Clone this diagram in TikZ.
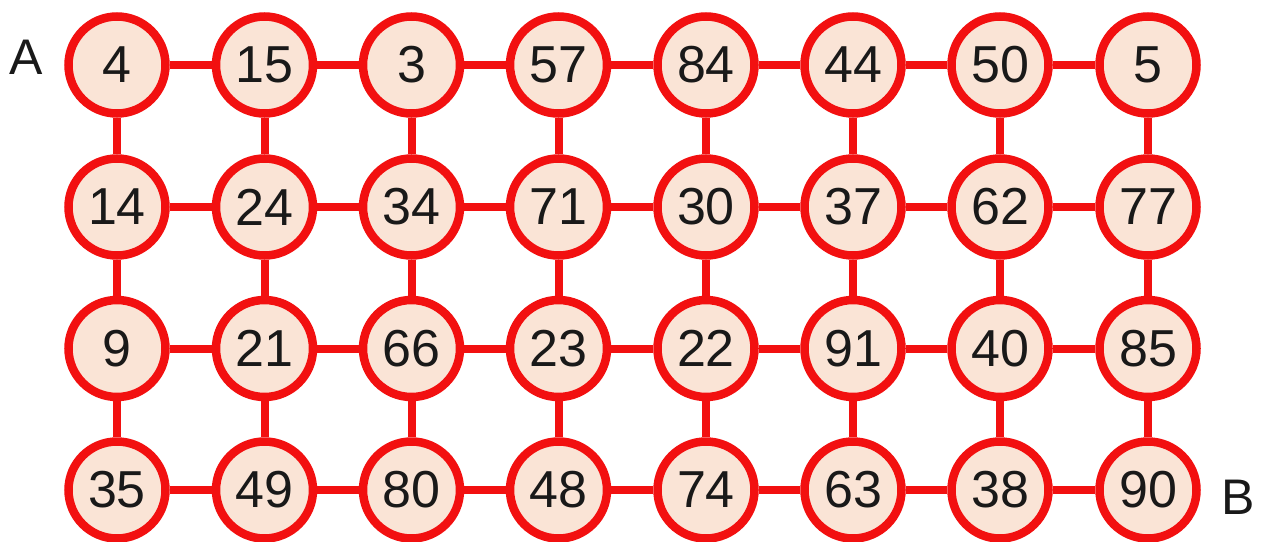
\documentclass[tikz,border=0pt]{standalone}
\usepackage{fontspec}
\setmainfont{Liberation Sans}
\definecolor{ringred}{RGB}{242,16,16}
\definecolor{peach}{RGB}{250,228,214}
\begin{document}
\begin{tikzpicture}[x=1pt,y=1pt,
  numnode/.style={circle,draw=ringred,fill=peach,line width=8.5pt,minimum size=97pt,inner sep=0pt,font=\fontsize{52}{52}\selectfont,text=black!90},
  link/.style={draw=ringred,line width=8pt},
  letter/.style={font=\fontsize{50}{50}\selectfont,text=black!90}]
\useasboundingbox (0,0) rectangle (1261,-541);
\def\colx{{117,264.5,411.5,558.5,706,853,1000,1148}}
\def\rowy{{-65,-207,-348.5,-490}}
\foreach \r/\vals in {0/{4,15,3,57,84,44,50,5},1/{14,24,34,71,30,37,62,77},2/{9,21,66,23,22,91,40,85},3/{35,49,80,48,74,63,38,90}}{
  \foreach \v [count=\c from 0] in \vals {
    \pgfmathsetmacro\xx{\colx[\c]}
    \pgfmathsetmacro\yy{\rowy[\r]}
    \node[numnode] (n\r\c) at (\xx,\yy) {\v};
  }
}
\foreach \r in {0,...,3}{
  \foreach \c [evaluate=\c as \d using int(\c+1)] in {0,...,6}{
    \draw[link] (n\r\c) -- (n\r\d);
  }
}
\foreach \r [evaluate=\r as \s using int(\r+1)] in {0,1,2}{
  \foreach \c in {0,...,7}{
    \draw[link] (n\r\c) -- (n\s\c);
  }
}
\node[letter] (A) at (26,-57) {A};
\node[letter] (B) at (1238,-497) {B};
\end{tikzpicture}
\end{document}
